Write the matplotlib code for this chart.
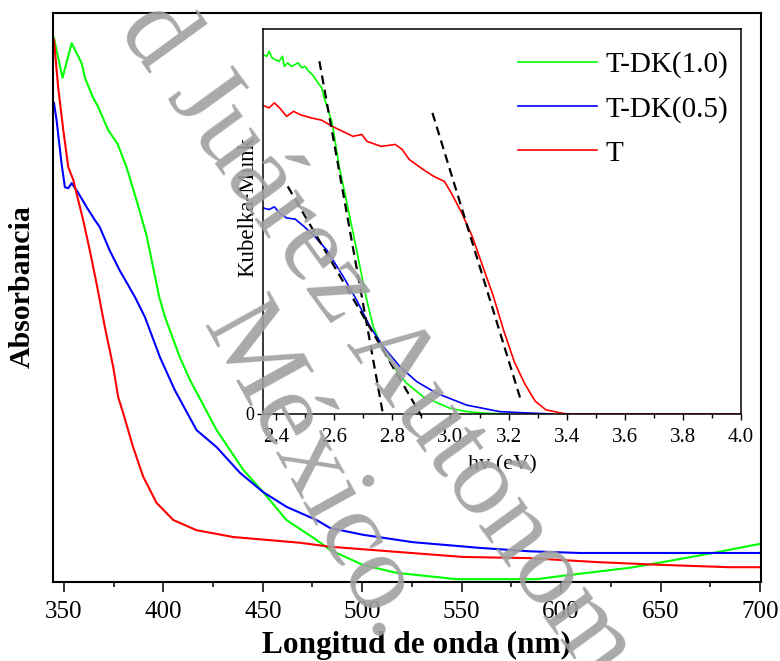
import matplotlib
matplotlib.use('Agg')
import matplotlib.pyplot as plt
from matplotlib.ticker import MultipleLocator

plt.rcParams['font.family'] = ['Liberation Serif', 'DejaVu Serif']

# main spectra: wavelength (nm) and absorbance (arb. units)
wl_g = [345, 349.3, 353.9, 358.9, 360.6, 364.7, 367.2, 372.3, 377, 381.5, 386.5, 391.5,
        398, 400.8, 408.3, 413.4, 426.8, 440.2, 450.2, 461.9, 477, 484, 500.4, 517.3,
        547.5, 587.7, 600.9, 634.6, 651.2, 676.3, 700]
abs_g = [0.956, 0.886, 0.947, 0.912, 0.886, 0.851, 0.835, 0.794, 0.770, 0.729, 0.671, 0.610,
         0.500, 0.466, 0.395, 0.355, 0.267, 0.197, 0.158, 0.109, 0.074, 0.056, 0.030, 0.016,
         0.005, 0.005, 0.011, 0.025, 0.035, 0.051, 0.067]

wl_b = [345, 346.3, 348.8, 350.5, 352.2, 353.9, 357.2, 361.4, 365.6, 368, 373, 378, 385.7,
        390.7, 398.3, 405.8, 416.7, 426.8, 438.5, 450.2, 462, 477, 483.8, 500.4, 525.5,
        559, 584, 609.5, 651, 700]
abs_b = [0.842, 0.812, 0.736, 0.694, 0.692, 0.701, 0.684, 0.659, 0.636, 0.624, 0.583, 0.548,
         0.501, 0.466, 0.395, 0.337, 0.267, 0.237, 0.192, 0.158, 0.132, 0.109, 0.095, 0.083,
         0.070, 0.060, 0.054, 0.051, 0.051, 0.051]

wl_r = [345, 347.1, 349.7, 352.2, 354.7, 357.2, 359.7, 363, 366.4, 370.6, 374.8, 377.3,
        379.8, 384.8, 389.9, 396.6, 405, 416.7, 435.3, 452, 468.7, 483.8, 517.3, 550.8,
        584, 618, 651, 685, 700]
abs_r = [0.953, 0.870, 0.794, 0.729, 0.707, 0.671, 0.636, 0.583, 0.525, 0.448, 0.378, 0.325,
         0.297, 0.237, 0.185, 0.139, 0.109, 0.091, 0.079, 0.074, 0.069, 0.062, 0.053, 0.044,
         0.042, 0.035, 0.030, 0.026, 0.026]

# inset: Kubelka-Munk vs photon energy (eV)
ev_g = [2.356, 2.368, 2.376, 2.386, 2.398, 2.410, 2.422, 2.428, 2.440, 2.452, 2.464, 2.476,
        2.488, 2.500, 2.512, 2.525, 2.537, 2.549, 2.557, 2.564, 2.593, 2.617, 2.641, 2.665,
        2.677, 2.700, 2.712, 2.734, 2.769, 2.803, 2.849, 2.906, 2.998, 3.05, 3.113, 3.2]
km_g = [0.933, 0.929, 0.942, 0.925, 0.920, 0.916, 0.929, 0.903, 0.912, 0.903, 0.907, 0.912,
        0.899, 0.903, 0.890, 0.881, 0.868, 0.855, 0.847, 0.825, 0.756, 0.643, 0.557, 0.470,
        0.426, 0.339, 0.296, 0.227, 0.166, 0.123, 0.080, 0.045, 0.015, 0.007, 0.002, 0.0]

ev_b = [2.356, 2.376, 2.394, 2.412, 2.436, 2.466, 2.496, 2.533, 2.574, 2.631, 2.677, 2.723,
        2.769, 2.826, 2.884, 2.952, 3.056, 3.171, 3.285, 3.35]
km_b = [0.535, 0.531, 0.538, 0.522, 0.509, 0.506, 0.487, 0.461, 0.426, 0.357, 0.296, 0.227,
        0.175, 0.123, 0.084, 0.054, 0.023, 0.006, 0.002, 0.0]

ev_r = [2.356, 2.376, 2.394, 2.412, 2.436, 2.460, 2.484, 2.521, 2.557, 2.593, 2.629, 2.665,
        2.695, 2.713, 2.762, 2.810, 2.834, 2.858, 2.906, 2.943, 2.979, 3.003, 3.039, 3.075,
        3.111, 3.148, 3.184, 3.220, 3.256, 3.292, 3.328, 3.377, 3.40, 4.0]
km_r = [0.801, 0.795, 0.808, 0.795, 0.773, 0.786, 0.777, 0.769, 0.763, 0.747, 0.734, 0.721,
        0.726, 0.708, 0.695, 0.700, 0.687, 0.661, 0.635, 0.617, 0.604, 0.574, 0.522, 0.461,
        0.384, 0.305, 0.215, 0.135, 0.078, 0.033, 0.011, 0.003, 0.0, 0.0]

# tangent lines (start, end) for band gap estimate
tan_g = ([2.549, 2.766], [0.916, 0.007])
tan_b = ([2.440, 2.900], [0.591, -0.005])
tan_r = ([2.938, 3.245], [0.782, 0.029])

labels = ['T-DK(1.0)', 'T-DK(0.5)', 'T']
colors = ['#00ff00', '#0000ff', '#ff0000']

fig = plt.figure(figsize=(7.8, 6.61), dpi=100)
ax = fig.add_axes([0.0679, 0.1195, 0.9077, 0.8608])
ax.plot(wl_g, abs_g, color=colors[0], lw=1.5)
ax.plot(wl_b, abs_b, color=colors[1], lw=1.5)
ax.plot(wl_r, abs_r, color=colors[2], lw=1.5)
ax.set_xlim(344.5, 700.5)
ax.set_ylim(0, 1)
ax.set_yticks([])
ax.xaxis.set_major_locator(MultipleLocator(50))
ax.xaxis.set_minor_locator(MultipleLocator(25))
ax.tick_params(axis='x', which='major', direction='out', length=7, width=1.1, labelsize=18, pad=6.5)
ax.tick_params(axis='x', which='minor', direction='out', length=3.5, width=1.1)
for s in ax.spines.values():
    s.set_linewidth(1.5)
ax.set_xlabel('Longitud de onda (nm)', fontsize=22.5, fontweight='bold', labelpad=6)
ax.xaxis.label.set_x(0.513)
ax.set_ylabel('Absorbancia', fontsize=21.5, fontweight='bold')
ax.yaxis.set_label_coords(-0.025, 0.52)

# inset
ax2 = fig.add_axes([0.3376, 0.3737, 0.6124, 0.5825])
ax2.plot(ev_g, km_g, color=colors[0], lw=1.2, label=labels[0])
ax2.plot(ev_b, km_b, color=colors[1], lw=1.2, label=labels[1])
ax2.plot(ev_r, km_r, color=colors[2], lw=1.2, label=labels[2])
for t in (tan_g, tan_b, tan_r):
    ax2.plot(t[0], t[1], color='black', lw=1.6, linestyle=(0, (4, 2.5)), clip_on=False)
ax2.set_xlim(2.356, 4.0)
ax2.set_ylim(0, 1)
ax2.set_yticks([0])
ax2.xaxis.set_major_locator(MultipleLocator(0.2))
ax2.xaxis.set_minor_locator(MultipleLocator(0.1))
ax2.xaxis.set_major_formatter(plt.FuncFormatter(lambda v, p: '%.1f' % v))
ax2.tick_params(axis='x', which='major', direction='out', length=4.5, width=1.0, labelsize=15, pad=5.5)
ax2.tick_params(axis='x', which='minor', direction='out', length=3, width=1.0)
ax2.tick_params(axis='y', direction='out', length=4.5, width=1.0, labelsize=13, pad=2)
for s in ax2.spines.values():
    s.set_linewidth(1.1)
ax2.set_xlabel('hv (eV)', fontsize=16, labelpad=6)
ax2.set_ylabel('Kubelka-Munk', fontsize=16.5)
ax2.yaxis.set_label_coords(-0.01, 0.538)
ax2.legend(loc='upper left', bbox_to_anchor=(0.534, 0.942), frameon=False, fontsize=21,
           handlelength=2.7, handletextpad=0.3, labelspacing=0.6, borderpad=0, borderaxespad=0)

# watermark
wm = dict(fontsize=80, color='#a0a0a0', alpha=0.9, rotation_mode='anchor',
          ha='left', va='baseline', zorder=10)
fig.text(0.150, 0.955, 'd Juárez Autónoma', rotation=-54, **wm)
fig.text(0.258, 0.508, 'México.', rotation=-61, **wm)

fig.savefig('out.png', dpi=100)
